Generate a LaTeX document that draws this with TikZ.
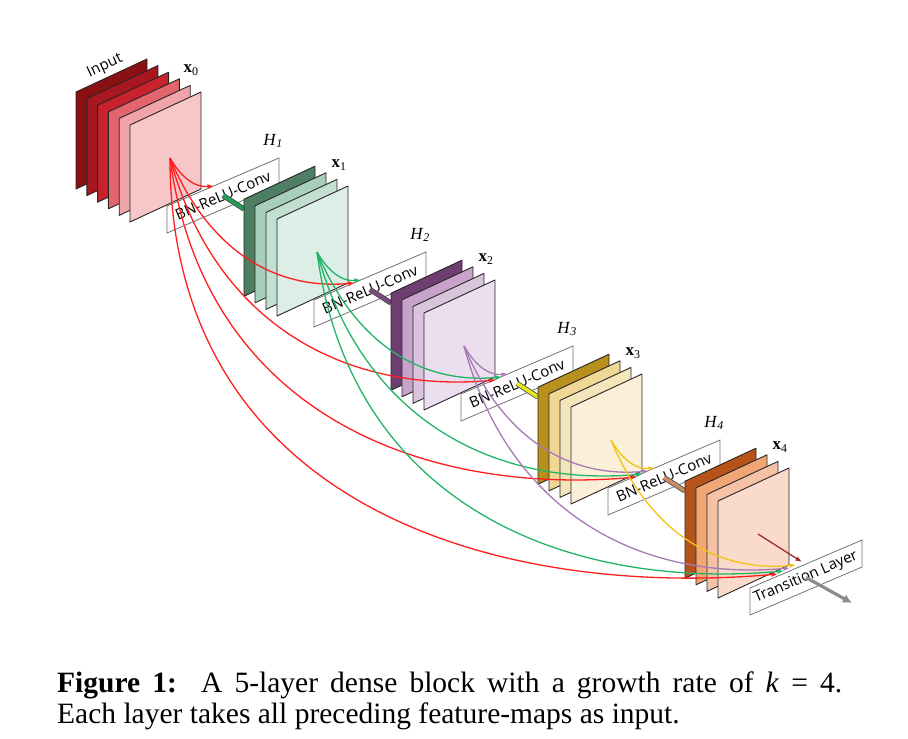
\documentclass[tikz,border=0pt]{standalone}
\usepackage{fontspec}
\setmainfont{Liberation Serif}
\newfontfamily\boxfont{Open Sans}
\usetikzlibrary{calc,arrows.meta}

% plate colours, back to front
\definecolor{inA}{HTML}{8B1014}
\definecolor{inB}{HTML}{A8161E}
\definecolor{inC}{HTML}{C8222C}
\definecolor{inD}{HTML}{E2646C}
\definecolor{inE}{HTML}{F0A3A8}
\definecolor{inF}{HTML}{F7C6C9}
\definecolor{gA}{HTML}{4E7F62}
\definecolor{gB}{HTML}{A8CFBC}
\definecolor{gC}{HTML}{C3DFD1}
\definecolor{gD}{HTML}{DDEEE6}
\definecolor{pA}{HTML}{6E3E72}
\definecolor{pB}{HTML}{C7A3CB}
\definecolor{pC}{HTML}{DAC3DD}
\definecolor{pD}{HTML}{EBDEEE}
\definecolor{yA}{HTML}{B8901E}
\definecolor{yB}{HTML}{EFD796}
\definecolor{yC}{HTML}{F5E5BA}
\definecolor{yD}{HTML}{FAF0D8}
\definecolor{oA}{HTML}{B5531A}
\definecolor{oB}{HTML}{F1A676}
\definecolor{oC}{HTML}{F6C2A5}
\definecolor{oD}{HTML}{FADACA}
% connections
\definecolor{lred}{HTML}{FF1E1E}
\definecolor{lgreen}{HTML}{22B466}
\definecolor{lpurple}{HTML}{A779B5}
\definecolor{lyellow}{HTML}{F2C416}
\definecolor{dred}{HTML}{9E2A2A}
\definecolor{barG}{HTML}{1F9E55}
\definecolor{barP}{HTML}{7A4A7E}
\definecolor{barY}{HTML}{E6E61E}
\definecolor{barO}{HTML}{C98C64}
\definecolor{tgray}{HTML}{8C8C8C}

\tikzset{
    plate/.style={draw=black!85, line width=0.9pt, line join=round},
    layerbox/.style={draw=black!55, fill=white, line width=0.8pt},
    boxtext/.style={font=\boxfont\fontsize{15}{18}\selectfont, inner sep=0pt},
    hlabel/.style={font=\fontsize{17}{20}\selectfont, inner sep=0pt},
    xlabel/.style={font=\fontsize{17}{20}\selectfont, inner sep=0pt},
    link/.style={line width=1.3pt, ->},
    bar/.style={draw=black!70, line width=0.8pt, double distance=3.6pt},
}

\newcommand{\plate}[3]{\filldraw[plate, fill=#3] ({#1},{#2}) -- ++(71,-33) -- ++(0,97) -- ++(-71,33) -- cycle;}
\newcommand{\layerbox}[2]{\filldraw[layerbox] ({#1},{#2}) -- ++(112,-48) -- ++(0,27) -- ++(-112,48) -- cycle;}

\begin{document}
\begin{tikzpicture}[x=1pt, y=-1pt, >={Latex[length=6.5pt,width=5pt]}]
\useasboundingbox (0,0) rectangle (908,739);

% input x0
\foreach \k/\c in {5/inA,4/inB,3/inC,2/inD,1/inE,0/inF}
    \plate{130-10.8*\k}{125-6.6*\k}{\c};
\node[boxtext, rotate=25] (lin) at (105,66) {Input};
\node[xlabel] (lx0) at (191,70) {\textbf{x}\textsubscript{0}};
\coordinate (x0) at (170,158);

% H_i then x_i
\foreach \i/\ca/\cb/\cc/\cd/\cbar in {1/gA/gB/gC/gD/barG, 2/pA/pB/pC/pD/barP, 3/yA/yB/yC/yD/barY, 4/oA/oB/oC/oD/barO}
{
    \layerbox{167+147*(\i-1)}{206+94*(\i-1)}
    \node[boxtext, rotate=23.2] (h\i) at ({223+147*(\i-1)},{195.5+94*(\i-1)}) {BN-ReLU-Conv};
    \node[hlabel] (lh\i) at ({273+147*(\i-1)},{141+94*(\i-1)}) {\textit{H}\textsubscript{\textit{\i}}};
    \coordinate (b\i) at ({97+147*\i},{115+94*\i});
    \draw[bar, double=\cbar] (h\i.center) -- (b\i);
    \foreach \k/\c in {3/\ca,2/\cb,1/\cc,0/\cd}
        \plate{130+147*\i-11*\k}{125+94*\i-6.6*\k}{\c};
    \node[xlabel] (lx\i) at ({192+147*\i},{71+94*\i}) {\textbf{x}\textsubscript{\i}};
    \coordinate (x\i) at ({170+147*\i},{158+94*\i});
}

% transition layer
\layerbox{750}{588}
\node[boxtext, rotate=23.2] (tr) at (806,577.5) {Transition Layer};
\coordinate (tout) at (852,603);
\draw[line width=3.2pt, tgray, -{Latex[length=9pt,width=9pt]}] (tr.center) -- (tout);

% dense connections
\foreach \s/\col in {0/lred,1/lgreen,2/lpurple,3/lyellow}
{
    \pgfmathtruncatemacro\first{\s+1}
    \foreach \j in {\first,...,5}
    {
        \pgfmathsetmacro\k{\j-1-\s}
        \pgfmathsetmacro\oa{-60-7.5*\k}
        \pgfmathsetmacro\ol{1+0.05*\k}
        \coordinate (e\j\s) at ({130+147*(\j-1)+84-6*\k},{125+94*(\j-1)+61+3*\k});
        \draw[link, \col] (x\s) to[out=\oa, in=185, out looseness=\ol] (e\j\s);
    }
}
\coordinate (e54) at (802,562);
\draw[link, dred] (x4) -- (e54);

% caption
\node[anchor=base west, inner sep=0pt, font=\fontsize{29.5}{32}\selectfont] (cap1) at (57,692)
    {\makebox[785pt][s]{\textbf{Figure 1:}\ \ A 5-layer dense block with a growth rate of \textit{k} = 4.}};
\node[anchor=base west, inner sep=0pt, font=\fontsize{29.5}{32}\selectfont] (cap2) at (57,723)
    {Each layer takes all preceding feature-maps as input.};

\end{tikzpicture}
\end{document}
